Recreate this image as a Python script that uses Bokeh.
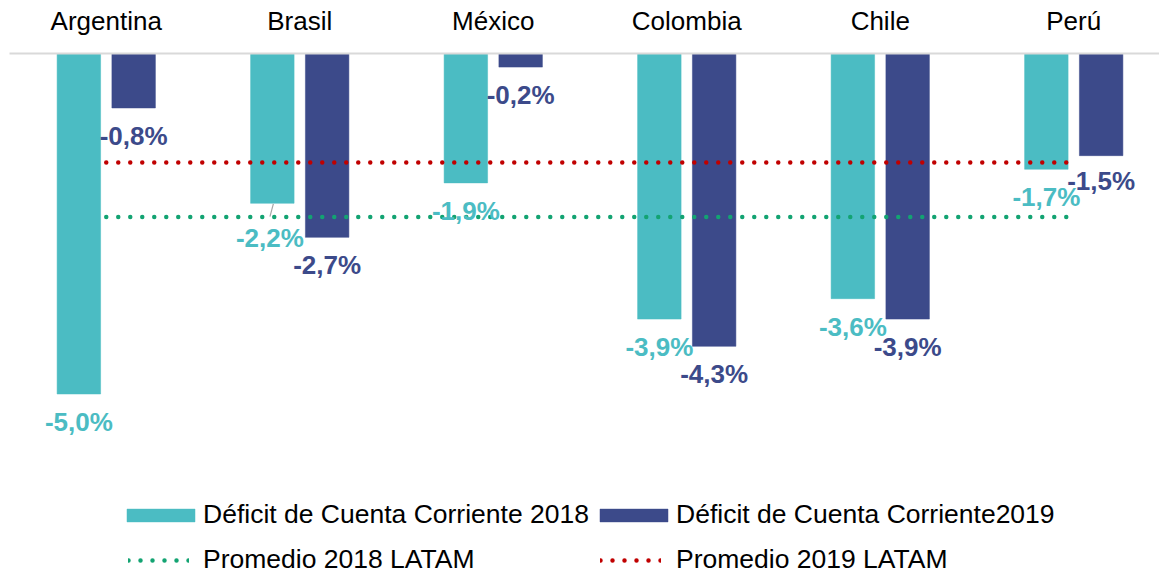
from bokeh.plotting import figure
from bokeh.models import (Range1d, LinearAxis, FixedTicker, Legend, LegendItem,
                          ColumnDataSource)
from bokeh.transform import dodge
from bokeh.core.properties import value
from bokeh.embed import file_html
from bokeh.resources import INLINE

# ---------------- data ----------------
paises = ["Argentina", "Brasil", "México", "Colombia", "Chile", "Perú"]
deficit_2018 = [-5.0, -2.2, -1.9, -3.9, -3.6, -1.7]
deficit_2019 = [-0.8, -2.7, -0.2, -4.3, -3.9, -1.5]
promedio_2018 = [-2.4, -2.4, -2.4, -2.4, -2.4, -2.4]
promedio_2019 = [-1.6, -1.6, -1.6, -1.6, -1.6, -1.6]
serie_2018 = "Déficit de Cuenta Corriente 2018"
serie_2019 = "Déficit de Cuenta Corriente2019"
serie_p2018 = "Promedio 2018 LATAM"
serie_p2019 = "Promedio 2019 LATAM"

# ---------------- style ----------------
C2018 = "#4BBCC3"
C2019 = "#3C4A8A"
CRED = "#C00000"
CGREEN = "#13A372"
FONT = "Liberation Sans"
PX_X = 193.5      # pixels per category
PX_Y = 68.1       # pixels per percentage point
FIG_W, FIG_H = 1159, 571
LEFT, TOP = 9, 53
FRAME_W = FIG_W - LEFT
FRAME_H = FIG_H - TOP
OFF = 27.4 / PX_X
BAR_W = 43.5 / PX_X

def fmt(v):
    return ("%.1f%%" % v).replace(".", ",")

pos = [i + 0.5 for i in range(len(paises))]

src = ColumnDataSource(dict(
    x=pos,
    d18=deficit_2018,
    d19=deficit_2019,
    l18=[fmt(v) for v in deficit_2018],
    l19=[fmt(v) for v in deficit_2019],
    xo18=[0, -2.5, 0, 0, 0, 0],
    yo18=[28, 35, 28, 28, 28, 28],
    yo19=[28, 28, 28, 28, 28, 25.5],
))

p = figure(width=FIG_W, height=FIG_H, output_backend="svg", toolbar_location=None,
           x_range=Range1d(0, FRAME_W / PX_X), y_range=Range1d(-FRAME_H / PX_Y, 0),
           x_axis_location=None, y_axis_location=None,
           min_border_left=LEFT, min_border_right=0, min_border_top=TOP, min_border_bottom=0)
p.outline_line_color = None
p.xgrid.visible = False
p.ygrid.visible = False
p.background_fill_color = "white"
p.border_fill_color = "white"

r18 = p.vbar(x=dodge("x", -OFF), top="d18", bottom=0, width=BAR_W, source=src,
             fill_color=C2018, line_color=C2018, line_width=0.5)
r19 = p.vbar(x=dodge("x", OFF), top="d19", bottom=0, width=BAR_W, source=src,
             fill_color=C2019, line_color=C2019, line_width=0.5)

rp18 = p.line(pos, promedio_2018, line_color=CGREEN, line_width=4.5,
              line_dash="0 12", line_cap="round")
rp19 = p.line(pos, promedio_2019, line_color=CRED, line_width=4.5,
              line_dash="0 12", line_cap="round")

# leader line for the moved Brasil 2018 label
bx = pos[1] - OFF
p.segment(x0=[bx + 1.0 / PX_X], y0=[deficit_2018[1] - 0.6 / PX_Y],
          x1=[bx - 2.4 / PX_X], y1=[deficit_2018[1] - 13.3 / PX_Y],
          line_color="#A6A6A6", line_width=1.2)

p.text(x=dodge("x", -OFF), y="d18", text="l18", source=src, x_offset="xo18", y_offset="yo18",
       text_align="center", text_baseline="middle", text_color=C2018,
       text_font=value(FONT), text_font_size="26px", text_font_style="bold")
p.text(x=dodge("x", OFF), y="d19", text="l19", source=src, y_offset="yo19",
       text_align="center", text_baseline="middle", text_color=C2019,
       text_font=value(FONT), text_font_size="26px", text_font_style="bold")

# category axis on top
ax = LinearAxis(ticker=FixedTicker(ticks=pos),
                major_label_overrides={pv: n for pv, n in zip(pos, paises)})
ax.axis_line_color = "#D9D9D9"
ax.axis_line_width = 2
ax.major_tick_line_color = None
ax.minor_tick_line_color = None
ax.major_tick_out = 0
ax.major_tick_in = 0
ax.major_label_standoff = 18
ax.major_label_text_font = FONT
ax.major_label_text_font_size = "26px"
ax.major_label_text_color = "black"
p.add_layout(ax, "above")

def add_legend(label, rend, loc, gw, gh, standoff):
    lg = Legend(items=[LegendItem(label=label, renderers=[rend])], location=loc,
                glyph_width=gw, glyph_height=gh, label_standoff=standoff,
                padding=0, margin=0, spacing=0, border_line_color=None,
                background_fill_alpha=0, label_text_font=FONT,
                label_text_font_size="26.5px", label_text_color="black",
                label_height=16)
    p.add_layout(lg)

add_legend(serie_2018, r18, (109, 41), 85, 16, 0)
add_legend(serie_2019, r19, (582, 41), 85, 16, 0)
add_legend(serie_p2018, rp18, (119, -4), 61, 16, 14)
add_legend(serie_p2019, rp19, (591, -4), 61, 16, 15)

open("out.html", "w").write(file_html(p, INLINE))
